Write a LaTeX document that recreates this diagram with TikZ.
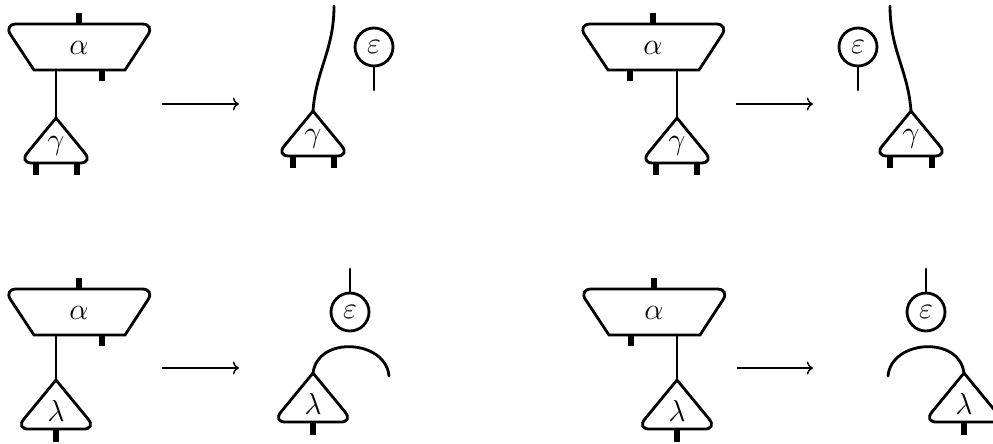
\documentclass[tikz,border=0pt]{standalone}
\usepackage{xcolor}
\usetikzlibrary{positioning, arrows.meta}

\begin{document}
\begin{tikzpicture}[
            x=0.02cm,
            y=-0.02cm,
            label text/.style={
                    font=\fontsize{19}{22}\selectfont
                },
            wire/.style={
                    line width=1.6pt,
                    line cap=round
                },
            stub/.style={
                    line width=3pt
                },
            arrow/.style={
                    ->,
                    line width=0.85pt
                },
            counit/.style={
                    circle,
                    draw,
                    line width=1.6pt,
                    minimum size=0.76cm,
                    inner sep=0pt,
                    label text
                },
            pics/trapbox/.style={
                    code={
                            \draw[wire, line join=miter] (-45,23) [rounded corners=7.3pt] -- (-75.5,-23) -- (76,-23) [sharp corners] -- (46,23) -- cycle;
                            \node[label text] (-label) at (0,1) {$\alpha$};
                            \coordinate (-bot) at (0,23);
                            \draw[stub] (0,-23) -- (0,-34);
                            \draw[stub] (#1,23) -- (#1,34);
                        }
                },
            pics/tribox/.style args={#1 and #2}{
                    code={
                            \draw[wire] (0,0) [rounded corners=7.3pt] -- (37,45) -- (-37,45) [sharp corners] -- cycle;
                            \node[label text] (-label) at (0,28) {$#1$};
                            \coordinate (-apex) at (0,0);
                            \foreach \s in {#2}
                            \draw[stub] (\s,45) -- (\s,57);
                        }
                }
        ]
        \useasboundingbox (0,0) rectangle (993,443);

        % top left
        \pic (a1) at (79,47) {trapbox=23};
        \pic (g1) at (56,118) {tribox={\gamma} and {-20,21}};
        \draw[wire] (g1-apex) -- (g1-apex |- a1-bot);
        \coordinate (s1) at (162,104);
        \coordinate (t1) at (239,104);
        \draw[arrow] (s1) -- (t1);
        \pic (h1) at (313,111) {tribox={\gamma} and {-20,21}};
        \coordinate (f1) at (334,6);
        \draw[wire] (h1-apex) .. controls (316,70) and (334,50) .. (f1);
        \node[counit] (e1) at (374,47) {$\varepsilon$};
        \coordinate (l1) at (374,90);
        \draw[wire] (e1) -- (l1);

        % top right
        \pic (a2) at (653,47) {trapbox=-23};
        \pic (g2) at (677,118) {tribox={\gamma} and {-21,20}};
        \draw[wire] (g2-apex) -- (g2-apex |- a2-bot);
        \coordinate (s2) at (736,104);
        \coordinate (t2) at (813,104);
        \draw[arrow] (s2) -- (t2);
        \pic (h2) at (911,111) {tribox={\gamma} and {-21,21}};
        \coordinate (f2) at (890,6);
        \draw[wire] (h2-apex) .. controls (908,70) and (890,50) .. (f2);
        \node[counit] (e2) at (858,47) {$\varepsilon$};
        \coordinate (l2) at (858,90);
        \draw[wire] (e2) -- (l2);

        % bottom left
        \pic (a3) at (79,312) {trapbox=23};
        \pic[scale=1.09] (g3) at (56,380) {tribox={\lambda} and {0}};
        \draw[wire] (g3-apex) -- (g3-apex |- a3-bot);
        \coordinate (s3) at (162,368);
        \coordinate (t3) at (239,368);
        \draw[arrow] (s3) -- (t3);
        \pic[scale=1.09] (h3) at (313,373) {tribox={\lambda} and {0}};
        \coordinate (f3) at (389,376);
        \draw[wire] (h3-apex) .. controls (318,335) and (386,340) .. (f3);
        \node[counit] (e3) at (350,312) {$\varepsilon$};
        \coordinate (l3) at (350,269);
        \draw[wire] (e3) -- (l3);

        % bottom right
        \pic (a4) at (654,312) {trapbox=-23};
        \pic[scale=1.09] (g4) at (677,380) {tribox={\lambda} and {0}};
        \draw[wire] (g4-apex) -- (g4-apex |- a4-bot);
        \coordinate (s4) at (737,368);
        \coordinate (t4) at (813,368);
        \draw[arrow] (s4) -- (t4);
        \pic[scale=1.09] (h4) at (964,373) {tribox={\lambda} and {0}};
        \coordinate (f4) at (888,376);
        \draw[wire] (h4-apex) .. controls (959,335) and (891,340) .. (f4);
        \node[counit] (e4) at (926,312) {$\varepsilon$};
        \coordinate (l4) at (926,269);
        \draw[wire] (e4) -- (l4);

    \end{tikzpicture}
\end{document}
